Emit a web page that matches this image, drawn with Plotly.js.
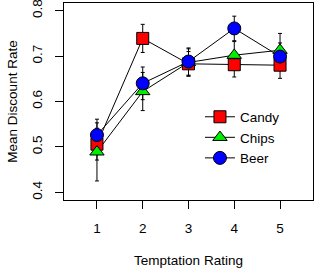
<!DOCTYPE html>
<html><head><meta charset="utf-8">
<script src="https://cdn.plot.ly/plotly-3.0.1.min.js"></script>
<style>html,body{margin:0;padding:0;background:#fff}#c{width:315px;height:269px}</style>
</head><body><div id="c"></div>
<script>
const ratings = [1, 2, 3, 4, 5];
const seriesNames = ["Candy", "Chips", "Beer"];
const candy = [0.506, 0.739, 0.683, 0.681, 0.680];
const candyErr = [0.035, 0.031, 0.027, 0.027, 0.029];
const chips = [0.489, 0.622, 0.686, 0.702, 0.713];
const chipsErr = [0.064, 0.042, 0.030, 0.030, 0.037];
const beer = [0.526, 0.640, 0.688, 0.761, 0.699];
const beerErr = [0.035, 0.036, 0.030, 0.027, 0.030];
const xTicks = [1, 2, 3, 4, 5];
const yTicks = [0.4, 0.5, 0.6, 0.7, 0.8];

const values = [candy, chips, beer];
const errs = [candyErr, chipsErr, beerErr];
const colors = ["#ff0000", "#00ee00", "#0000ff"];
const symbols = ["square", "triangle-up", "circle"];
const sizes = [12, 12.5, 13];

const traces = [];
for (let i = 0; i < 3; i++) {
  traces.push({
    x: ratings, y: values[i], mode: "lines", showlegend: false,
    line: {color: "#000", width: 1},
    error_y: {type: "data", array: errs[i], visible: true, color: "#000", thickness: 1, width: 2},
    hoverinfo: "skip"
  });
}
for (let i = 0; i < 3; i++) {
  traces.push({
    x: ratings, y: values[i], mode: "markers", showlegend: false,
    marker: {symbol: symbols[i], size: sizes[i], color: colors[i], line: {color: "#000", width: 1}}
  });
}
for (let i = 0; i < 3; i++) {
  traces.push({
    x: [null], y: [null], mode: "lines+markers", name: seriesNames[i],
    line: {color: "#000", width: 1},
    marker: {symbol: symbols[i], size: sizes[i], color: colors[i], line: {color: "#000", width: 1}}
  });
}

const FS = 13.5;
const layout = {
  width: 315, height: 269,
  margin: {l: 64, r: 2, t: 3, b: 69},
  paper_bgcolor: "#fff", plot_bgcolor: "#fff",
  font: {family: "Liberation Sans, Arial, sans-serif", size: FS, color: "#000"},
  showlegend: true,
  legend: {x: 0.546, y: 0.5, xanchor: "left", yanchor: "top", bgcolor: "rgba(0,0,0,0)",
           font: {size: FS}, tracegroupgap: 0, itemwidth: 30},
  xaxis: {
    range: [0.28, 5.72], tickvals: xTicks, ticktext: xTicks.map(String),
    showgrid: false, zeroline: false, showline: true, mirror: true, linecolor: "#000", linewidth: 1,
    ticks: "outside", ticklen: 8, tickcolor: "#000", tickwidth: 1, ticklabelstandoff: 8,
    title: {text: "Temptation Rating", standoff: 20, font: {size: FS}}
  },
  yaxis: {
    range: [0.383, 0.817], tickvals: yTicks, ticktext: yTicks.map(v => v.toFixed(1)),
    tickangle: -90, ticklabelstandoff: 8, ticklabeloverflow: "allow",
    showgrid: false, zeroline: false, showline: true, mirror: true, linecolor: "#000", linewidth: 1,
    ticks: "outside", ticklen: 8, tickcolor: "#000", tickwidth: 1,
    title: {text: "Mean Discount Rate", standoff: 8, font: {size: FS}}
  }
};
Plotly.newPlot("c", traces, layout, {displayModeBar: false, staticPlot: true});
</script></body></html>
